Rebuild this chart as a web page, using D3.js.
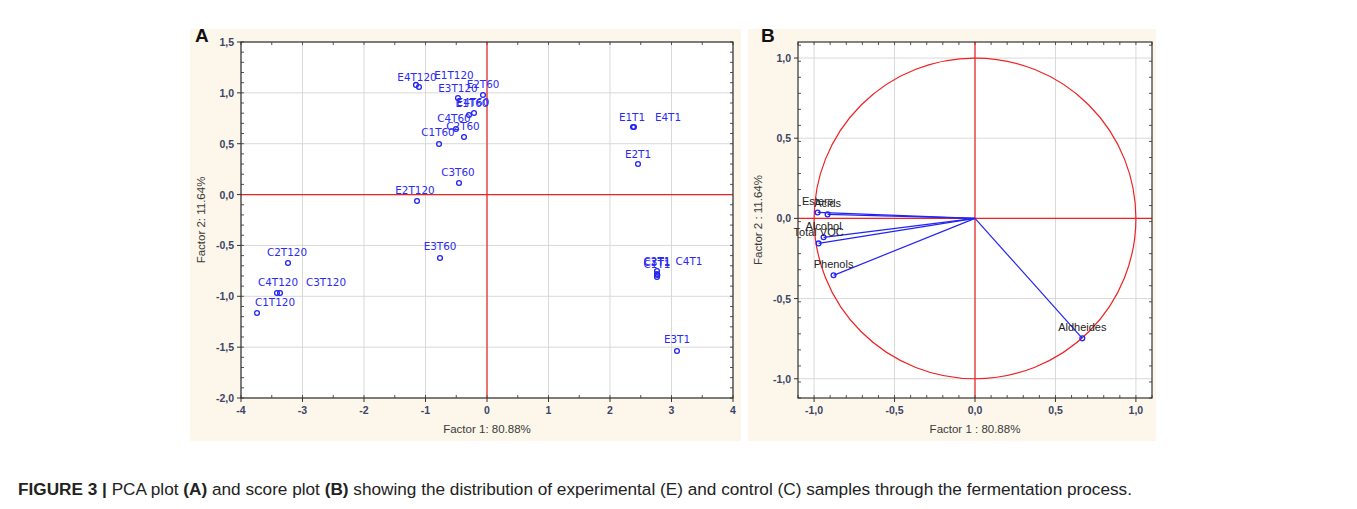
<!DOCTYPE html>
<html>
<head>
<meta charset="utf-8">
<script src="https://cdn.jsdelivr.net/npm/d3@7"></script>
<style>
  body { margin: 0; background: #fff; }
  svg { display: block; font-family: "Liberation Sans", Arial, sans-serif; }
</style>
</head>
<body>
<svg id="fig" width="1357" height="509"></svg>
<script>
// panel A: sample scores [name, factor1, factor2]
const samples = [
  ["E4T120", -1.155, 1.078], ["E1T120", -1.106, 1.058], ["E3T120", -0.472, 0.950],
  ["E2T60", -0.065, 0.979], ["E1T60", -0.211, 0.802], ["E4T60", -0.293, 0.783],
  ["C4T60", -0.504, 0.645], ["C2T60", -0.374, 0.566], ["C1T60", -0.780, 0.497],
  ["C3T60", -0.455, 0.114], ["E2T120", -1.138, -0.063], ["E3T60", -0.764, -0.623],
  ["C2T120", -3.236, -0.673], ["C4T120", -3.415, -0.967], ["C3T120", -3.366, -0.967],
  ["C1T120", -3.740, -1.164], ["E1T1", 2.374, 0.665], ["E4T1", 2.390, 0.665],
  ["E2T1", 2.455, 0.301], ["C1T1", 2.764, -0.751], ["C2T1", 2.764, -0.781],
  ["C3T1", 2.764, -0.811], ["C4T1", 2.770, -0.791], ["E3T1", 3.089, -1.538]
];
// where Statistica placed each sample's name, in factor units [name, f1, f2]
const sampleLabelAt = [
  ["E4T120", -1.138, 1.117], ["E1T120", -0.537, 1.137], ["E3T120", -0.472, 1.009],
  ["E2T60", -0.065, 1.048], ["E1T60", -0.244, 0.861], ["E4T60", -0.228, 0.871],
  ["C4T60", -0.537, 0.713], ["C2T60", -0.390, 0.635], ["C1T60", -0.797, 0.576],
  ["C3T60", -0.472, 0.183], ["E2T120", -1.171, 0.006], ["E3T60", -0.764, -0.545],
  ["C2T120", -3.252, -0.604], ["C4T120", -3.398, -0.899], ["C3T120", -2.618, -0.899],
  ["C1T120", -3.447, -1.095], ["E1T1", 2.358, 0.724], ["E4T1", 2.943, 0.724],
  ["E2T1", 2.455, 0.360], ["C1T1", 2.764, -0.722], ["C2T1", 2.764, -0.692],
  ["C3T1", 2.764, -0.702], ["C4T1", 3.285, -0.692], ["E3T1", 3.089, -1.460]
];
const aTicksX = [-4, -3, -2, -1, 0, 1, 2, 3, 4];
const aTicksY = [-2, -1.5, -1, -0.5, 0, 0.5, 1, 1.5];

// panel B: variable loadings [name, factor1, factor2]
const loadings = [
  ["Esters", -0.978, 0.037], ["Acids", -0.916, 0.025], ["Alcohol", -0.941, -0.118],
  ["Total VOC", -0.972, -0.156], ["Phenols", -0.879, -0.355], ["Aldheides", 0.667, -0.748]
];
const bTicks = [-1, -0.5, 0, 0.5, 1];

// Statistica style: decimal comma, plain hyphen for minus
const fmtDec = v => v.toFixed(1).replace(".", ",");
const fmtInt = v => String(v);

const svg = d3.select("#fig");

function panel(o) {
  const g = svg.append("g");
  g.append("rect").attr("x", o.bg[0]).attr("y", o.bg[1]).attr("width", o.bg[2]).attr("height", o.bg[3])
    .attr("fill", "#fcf7ea");
  const [x0, x1] = o.x.range(), [y0, y1] = o.y.range();
  g.append("rect").attr("x", x0).attr("y", y1).attr("width", x1 - x0).attr("height", y0 - y1).attr("fill", "#fff");

  // grid
  g.selectAll(".gx").data(o.ticksX).join("line")
    .attr("x1", d => o.x(d)).attr("x2", d => o.x(d)).attr("y1", y1).attr("y2", y0)
    .attr("stroke", "#d9d9d9");
  g.selectAll(".gy").data(o.ticksY).join("line")
    .attr("y1", d => o.y(d)).attr("y2", d => o.y(d)).attr("x1", x0).attr("x2", x1)
    .attr("stroke", "#d9d9d9");

  // minor ticks inside the frame
  const minorX = d3.range(o.x.domain()[0], o.x.domain()[1] + 1e-9, o.minorX);
  const minorY = d3.range(o.y.domain()[0], o.y.domain()[1] + 1e-9, o.minorY);
  g.selectAll(".mx").data(minorX).join("path")
    .attr("d", d => `M${o.x(d)},${y0}v-3M${o.x(d)},${y1}v3`).attr("stroke", "#555");
  g.selectAll(".my").data(minorY).join("path")
    .attr("d", d => `M${x0},${o.y(d)}h3M${x1},${o.y(d)}h-3`).attr("stroke", "#555");

  o.inner(g);

  g.append("rect").attr("x", x0).attr("y", y1).attr("width", x1 - x0).attr("height", y0 - y1)
    .attr("fill", "none").attr("stroke", "#333").attr("stroke-width", 1.2);

  // major ticks + labels
  g.selectAll(".tx").data(o.ticksX).join("path")
    .attr("d", d => `M${o.x(d)},${y0}v4`).attr("stroke", "#333");
  g.selectAll(".ty").data(o.ticksY).join("path")
    .attr("d", d => `M${x0},${o.y(d)}h-4`).attr("stroke", "#333");
  g.selectAll(".lx").data(o.ticksX).join("text")
    .attr("x", d => o.x(d)).attr("y", y0 + 16).attr("text-anchor", "middle")
    .attr("font-size", 10.5).attr("font-weight", "bold").attr("fill", "#3d4466")
    .text(o.fmtX);
  g.selectAll(".ly").data(o.ticksY).join("text")
    .attr("x", x0 - 7).attr("y", d => o.y(d) + 4).attr("text-anchor", "end")
    .attr("font-size", 10.5).attr("font-weight", "bold").attr("fill", "#3d4466")
    .text(o.fmtY);

  g.append("text").attr("x", (x0 + x1) / 2).attr("y", y0 + 35).attr("text-anchor", "middle")
    .attr("font-size", 11.5).attr("fill", "#3a3a3a").text(o.titleX);
  g.append("text").attr("transform", `translate(${o.titleYx},${(y0 + y1) / 2}) rotate(-90)`)
    .attr("text-anchor", "middle").attr("font-size", 11.5).attr("fill", "#3a3a3a").text(o.titleY);
  g.append("text").attr("x", o.letter[0]).attr("y", o.letter[1])
    .attr("font-size", 19).attr("font-weight", "bold").attr("fill", "#111").text(o.letter[2]);
}

// ---------- panel A ----------
const xA = d3.scaleLinear().domain([-4, 4]).range([241, 733]);
const yA = d3.scaleLinear().domain([-2, 1.5]).range([398, 42]);
panel({
  bg: [190, 29, 551, 412], x: xA, y: yA, ticksX: aTicksX, ticksY: aTicksY,
  minorX: 0.5, minorY: 0.1, fmtX: fmtInt, fmtY: fmtDec,
  titleX: "Factor 1: 80.88%", titleY: "Factor 2: 11.64%", titleYx: 205, letter: [195, 42, "A"],
  inner: g => {
    g.append("line").attr("x1", xA(0)).attr("x2", xA(0)).attr("y1", yA(1.5)).attr("y2", yA(-2))
      .attr("stroke", "#ee2222").attr("stroke-width", 1.2);
    g.append("line").attr("y1", yA(0)).attr("y2", yA(0)).attr("x1", xA(-4)).attr("x2", xA(4))
      .attr("stroke", "#ee2222").attr("stroke-width", 1.2);
    g.selectAll(".pt").data(samples).join("circle")
      .attr("cx", d => xA(d[1])).attr("cy", d => yA(d[2])).attr("r", 2.4)
      .attr("fill", "none").attr("stroke", "#2323f5").attr("stroke-width", 1.3);
    g.selectAll(".pl").data(sampleLabelAt).join("text")
      .attr("x", d => xA(d[1])).attr("y", d => yA(d[2])).attr("text-anchor", "middle")
      .attr("font-family", "'DejaVu Sans', Verdana, sans-serif").attr("font-size", 10.4)
      .attr("fill", "#2b2bf2").text(d => d[0]);
  }
});

// ---------- panel B ----------
const xB = d3.scaleLinear().domain([-1.1, 1.1]).range([798, 1152]);
const yB = d3.scaleLinear().domain([-1.12, 1.1]).range([398, 42]);
panel({
  bg: [748, 29, 408, 412], x: xB, y: yB, ticksX: bTicks, ticksY: bTicks,
  minorX: 0.1, minorY: 0.1, fmtX: fmtDec, fmtY: fmtDec,
  titleX: "Factor 1 : 80.88%", titleY: "Factor 2 : 11.64%", titleYx: 762, letter: [761, 42, "B"],
  inner: g => {
    g.append("ellipse").attr("cx", xB(0)).attr("cy", yB(0))
      .attr("rx", xB(1) - xB(0)).attr("ry", yB(0) - yB(1))
      .attr("fill", "none").attr("stroke", "#ee2222").attr("stroke-width", 1.2);
    g.append("line").attr("x1", xB(0)).attr("x2", xB(0)).attr("y1", yB(1.1)).attr("y2", yB(-1.12))
      .attr("stroke", "#ee2222").attr("stroke-width", 1.2);
    g.append("line").attr("y1", yB(0)).attr("y2", yB(0)).attr("x1", xB(-1.1)).attr("x2", xB(1.1))
      .attr("stroke", "#ee2222").attr("stroke-width", 1.2);
    g.selectAll(".vec").data(loadings).join("line")
      .attr("x1", xB(0)).attr("y1", yB(0)).attr("x2", d => xB(d[1])).attr("y2", d => yB(d[2]))
      .attr("stroke", "#2323f5").attr("stroke-width", 1.2);
    g.selectAll(".vp").data(loadings).join("circle")
      .attr("cx", d => xB(d[1])).attr("cy", d => yB(d[2])).attr("r", 2.4)
      .attr("fill", "none").attr("stroke", "#2323f5").attr("stroke-width", 1.3);
    g.selectAll(".vl").data(loadings).join("text")
      .attr("x", d => xB(d[1])).attr("y", d => yB(d[2]) - 7).attr("text-anchor", "middle")
      .attr("font-size", 11).attr("fill", "#222").text(d => d[0]);
  }
});

// ---------- caption ----------
const caption = svg.append("text").attr("x", 18).attr("y", 495).attr("font-size", 17.2).attr("fill", "#222");
[["FIGURE 3 | ", true], ["PCA plot ", false], ["(A)", true], [" and score plot ", false], ["(B)", true],
 [" showing the distribution of experimental (E) and control (C) samples through the fermentation process.", false]]
  .forEach(([t, b]) => caption.append("tspan").attr("font-weight", b ? "bold" : "normal").text(t));
</script>
</body>
</html>
